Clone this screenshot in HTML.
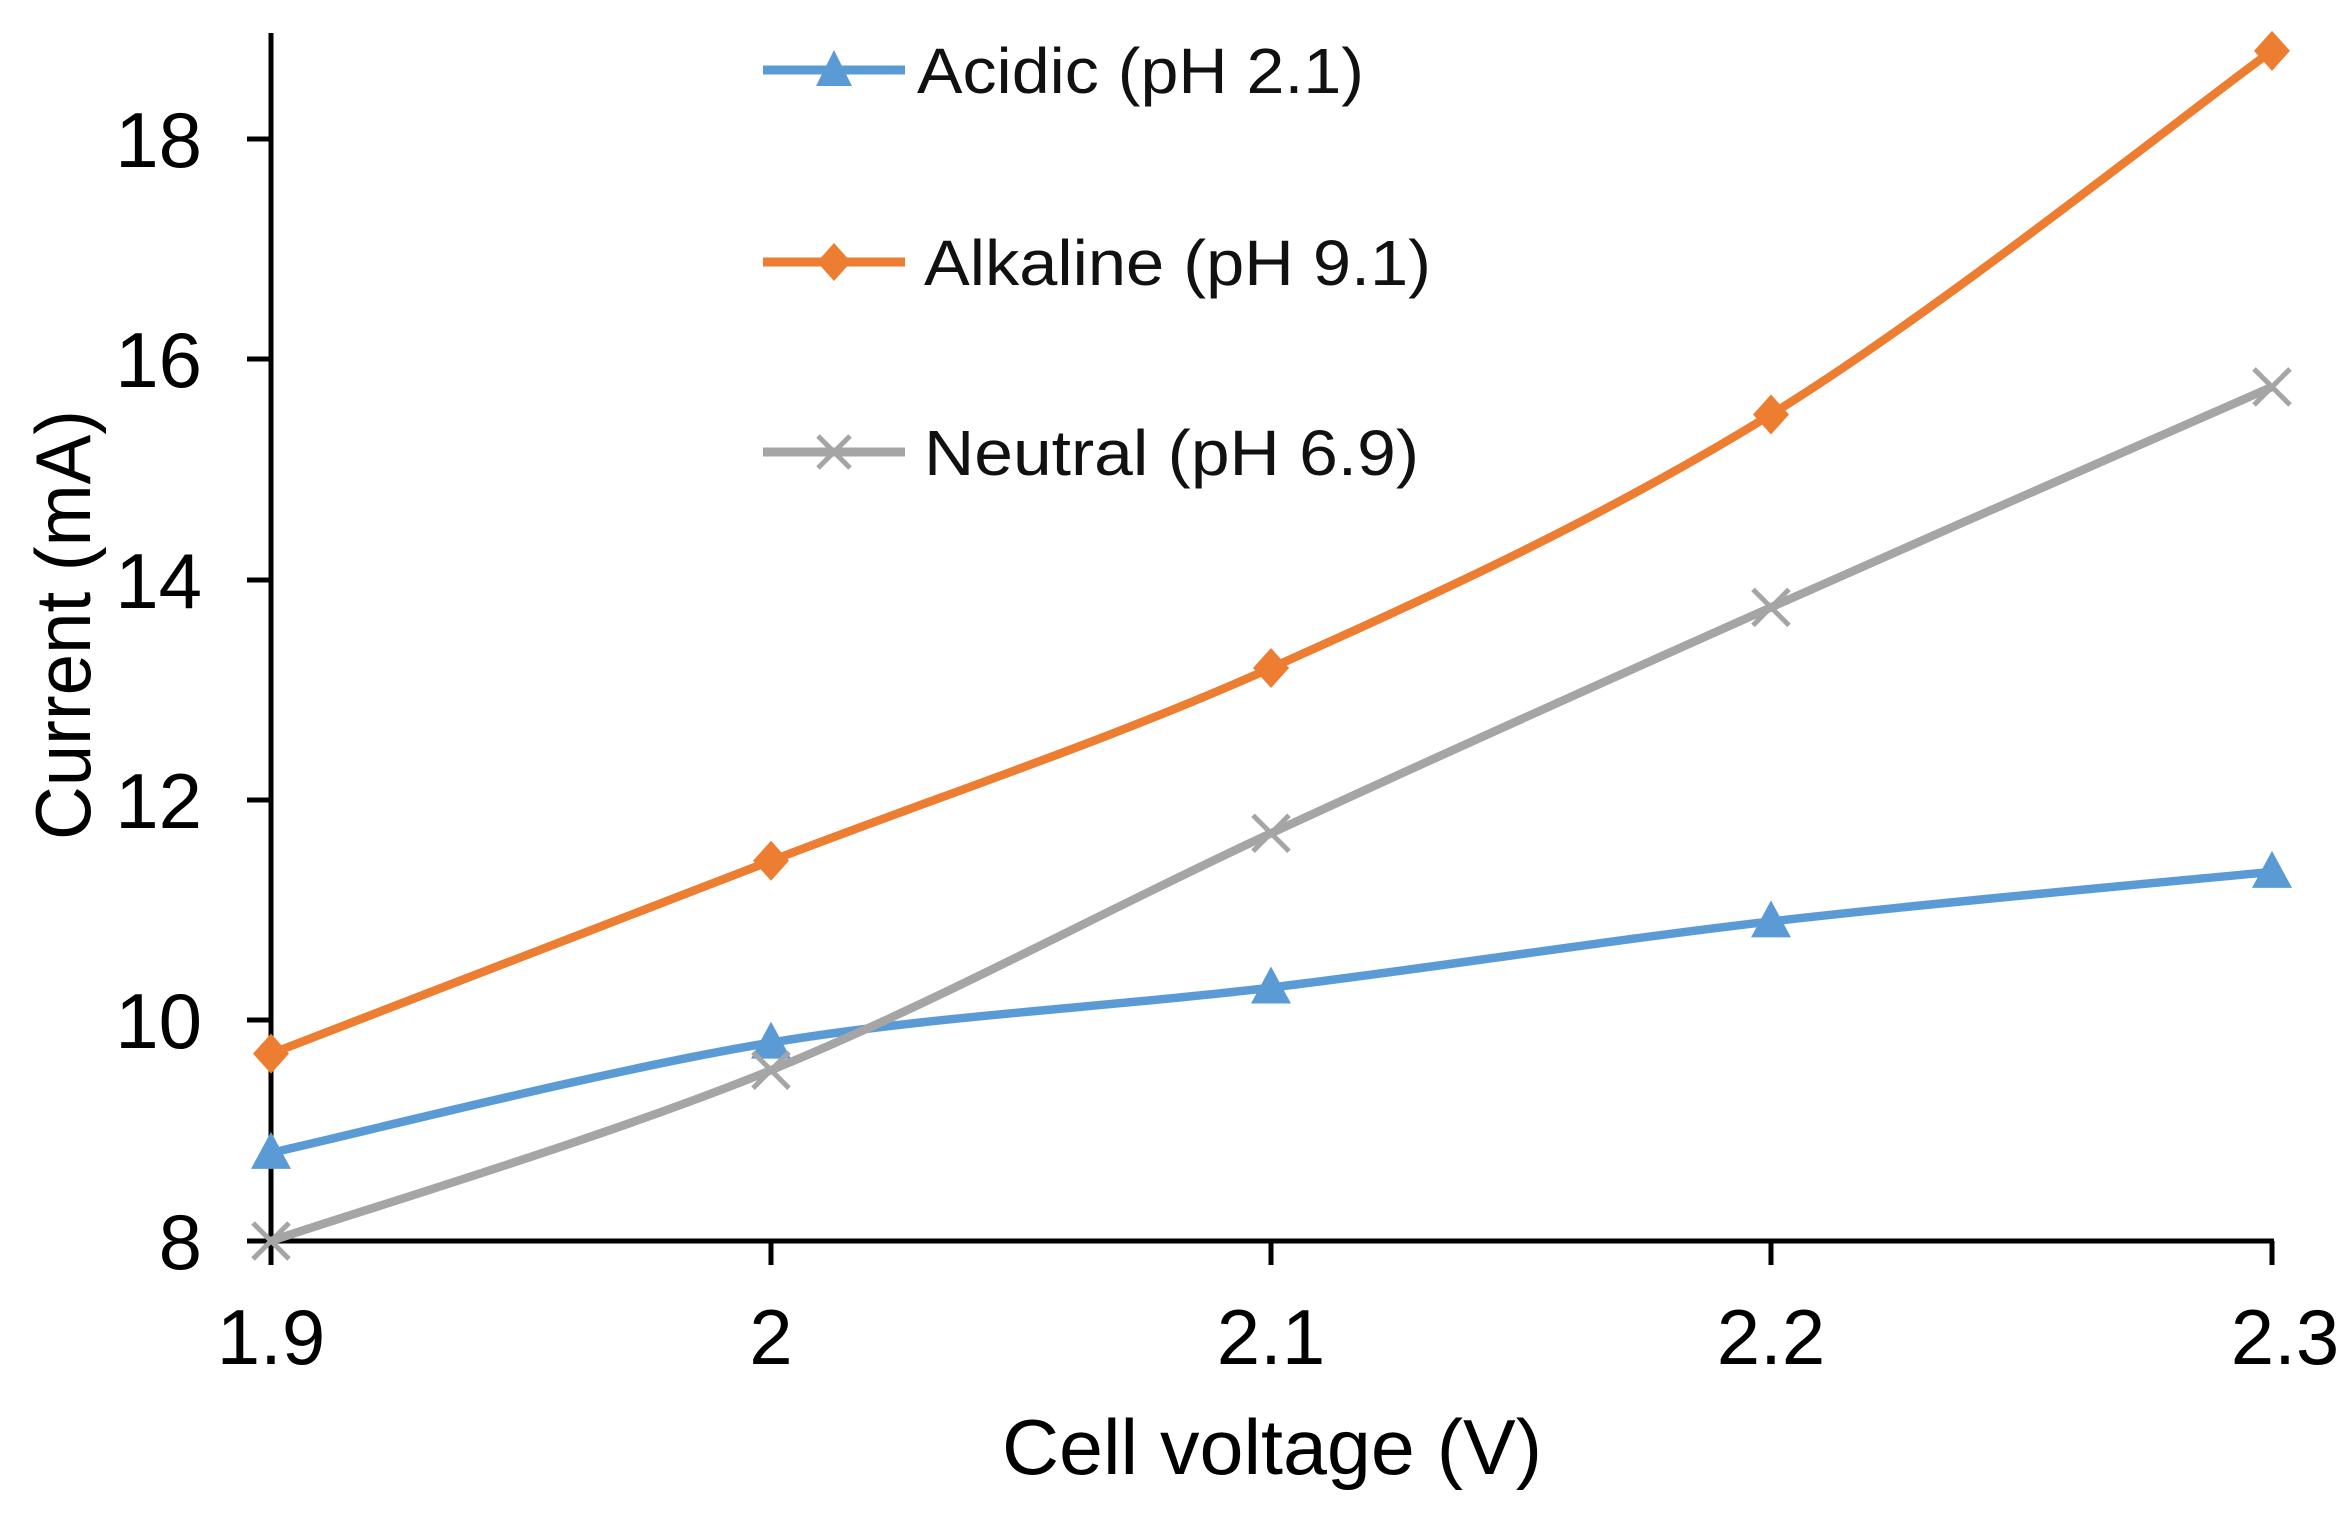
<!DOCTYPE html>
<html><head><meta charset="utf-8"><style>html,body{margin:0;padding:0;background:#fff}svg{display:block}</style></head>
<body>
<svg id="s" width="2338" height="1517" viewBox="0 0 2338 1517" xmlns="http://www.w3.org/2000/svg" font-family="Liberation Sans, sans-serif">
<rect width="2338" height="1517" fill="#fff"/>
<g stroke="#000" stroke-width="5" fill="none">
<line x1="271" y1="33" x2="271" y2="1265"/>
<line x1="269" y1="1241" x2="2274" y2="1241"/>
<line x1="247" y1="139" x2="271" y2="139"/>
<line x1="247" y1="359" x2="271" y2="359"/>
<line x1="247" y1="580" x2="271" y2="580"/>
<line x1="247" y1="800" x2="271" y2="800"/>
<line x1="247" y1="1020" x2="271" y2="1020"/>
<line x1="247" y1="1241" x2="271" y2="1241"/>
<line x1="771" y1="1241" x2="771" y2="1265"/>
<line x1="1271" y1="1241" x2="1271" y2="1265"/>
<line x1="1771" y1="1241" x2="1771" y2="1265"/>
<line x1="2272" y1="1241" x2="2272" y2="1265"/>
</g>
<g font-size="78" fill="#000" text-anchor="end">
<text x="202" y="167">18</text>
<text x="202" y="387">16</text>
<text x="202" y="608">14</text>
<text x="202" y="828">12</text>
<text x="202" y="1048">10</text>
<text x="202" y="1269">8</text>
</g>
<g font-size="78" fill="#000" text-anchor="middle">
<text x="271" y="1364">1.9</text>
<text x="771" y="1364">2</text>
<text x="1271" y="1364">2.1</text>
<text x="1771" y="1364">2.2</text>
<text x="2285" y="1364">2.3</text>
<text x="1272" y="1474" textLength="540" lengthAdjust="spacingAndGlyphs">Cell voltage (V)</text>
<text transform="translate(90,625) rotate(-90)" textLength="430" lengthAdjust="spacingAndGlyphs">Current (mA)</text>
</g>
<g id="series"></g>
<g font-size="64" fill="#111">
<line x1="763" y1="70" x2="905" y2="70" stroke="#5B9BD5" stroke-width="9"/>
<polygon points="834,50 852,86 816,86" fill="#5B9BD5"/>
<text x="917" y="93" textLength="447" lengthAdjust="spacingAndGlyphs">Acidic (pH 2.1)</text>
<line x1="763" y1="262" x2="905" y2="262" stroke="#ED7D31" stroke-width="9"/>
<polygon points="834,243 851,262 834,281 817,262" fill="#ED7D31"/>
<text x="924" y="285" textLength="507" lengthAdjust="spacingAndGlyphs">Alkaline (pH 9.1)</text>
<line x1="763" y1="452" x2="905" y2="452" stroke="#A5A5A5" stroke-width="9"/>
<path d="M818,436 L850,468 M850,436 L818,468" stroke="#A5A5A5" stroke-width="5"/>
<text x="924" y="475" textLength="495" lengthAdjust="spacingAndGlyphs">Neutral (pH 6.9)</text>
</g>
</svg>
<script>
(function(){
var xs=[271,771,1271,1771,2272];
function Y(v){return 1241-(v-8)*110.2;}
var S=[
 {c:"#5B9BD5",d:[8.8,9.8,10.3,10.9,11.35],m:"tri"},
 {c:"#A5A5A5",d:[8.0,9.55,11.7,13.75,15.75],m:"x"},
 {c:"#ED7D31",d:[9.7,11.45,13.2,15.5,18.8],m:"dia"}
];
var g=document.getElementById("series"),h="";
S.forEach(function(s){
 var p=s.d.map(function(v,i){return [xs[i],Y(v)];});
 var d="M"+p[0][0]+","+p[0][1];
 for(var i=0;i<p.length-1;i++){
  var p0=p[i>0?i-1:i],p1=p[i],p2=p[i+1],p3=p[i+2<p.length?i+2:i+1];
  var c1=[p1[0]+(p2[0]-p0[0])/6,p1[1]+(p2[1]-p0[1])/6];
  var c2=[p2[0]-(p3[0]-p1[0])/6,p2[1]-(p3[1]-p1[1])/6];
  d+=" C"+c1+" "+c2+" "+p2;
 }
 h+='<path d="'+d+'" fill="none" stroke="'+s.c+'" stroke-width="8.5"/>';
 p.forEach(function(q){
  var x=q[0],y=q[1];
  if(s.m=="tri")h+='<polygon points="'+x+','+(y-21)+' '+(x+20)+','+(y+16)+' '+(x-20)+','+(y+16)+'" fill="'+s.c+'"/>';
  else if(s.m=="dia")h+='<polygon points="'+x+','+(y-20)+' '+(x+18)+','+y+' '+x+','+(y+20)+' '+(x-18)+','+y+'" fill="'+s.c+'"/>';
  else h+='<path d="M'+(x-18)+','+(y-18)+' L'+(x+18)+','+(y+18)+' M'+(x+18)+','+(y-18)+' L'+(x-18)+','+(y+18)+'" stroke="'+s.c+'" stroke-width="5"/>';
 });
});
g.innerHTML=h;
})();
</script>
</body></html>
